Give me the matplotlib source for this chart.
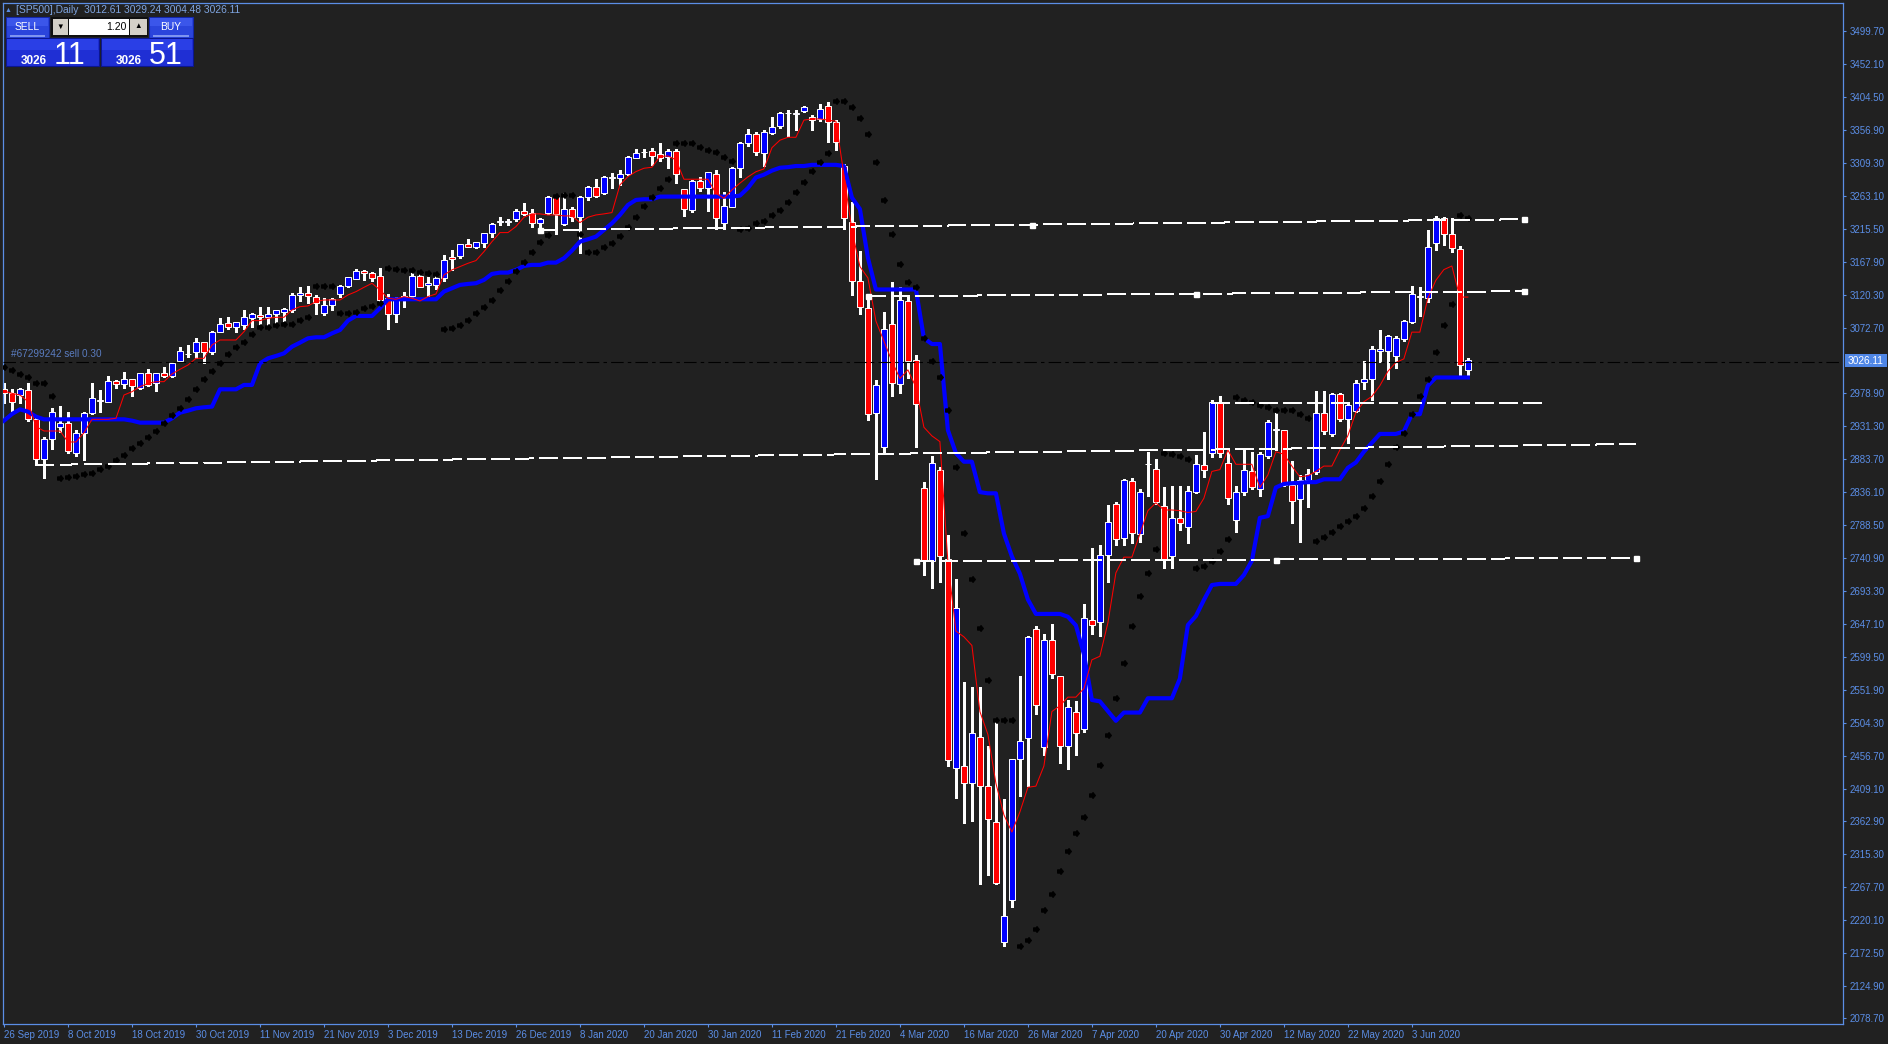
import matplotlib
matplotlib.use("Agg")
import matplotlib.pyplot as plt
from matplotlib.patches import Rectangle
from matplotlib.path import Path
import numpy as np
import pandas as pd

W, H = 1888, 1044
BG = "#212121"
AXC = "#5b8ee6"

# --- trading calendar of the CFD (closed only on these days) ---
closed_days = ["2019-12-25", "2020-01-01", "2020-04-10"]
tick_dates = ["2019-09-26", "2019-10-08", "2019-10-18", "2019-10-30", "2019-11-11", "2019-11-21",
              "2019-12-03", "2019-12-13", "2019-12-26", "2020-01-08", "2020-01-20", "2020-01-30",
              "2020-02-11", "2020-02-21", "2020-03-04", "2020-03-16", "2020-03-26", "2020-04-07",
              "2020-04-20", "2020-04-30", "2020-05-12", "2020-05-22", "2020-06-03"]

# --- OHLC ---
opens = [2984.2, 2978.4, 2975.6, 2982.8, 2941.9, 2883.4, 2912.2, 2929.5, 2935.3, 2892.0,
         2920.9, 2949.7, 2968.5, 2966.4, 2996.7, 2991.9, 2998.6, 2985.6, 3007.2, 2992.8,
         3007.2, 3003.4, 3025.0, 3035.0, 3038.4, 3051.9, 3038.4, 3067.2, 3079.2, 3074.4,
         3077.3, 3086.4, 3091.7, 3087.9, 3092.2, 3095.9, 3098.4, 3119.5, 3122.9, 3116.6,
         3094.6, 3105.2, 3121.0, 3133.0, 3143.1, 3155.1, 3152.2, 3147.4, 3115.3, 3092.2,
         3115.3, 3118.6, 3147.4, 3134.5, 3134.5, 3144.1, 3175.2, 3176.7, 3193.5, 3188.7,
         3195.4, 3208.8, 3225.4, 3225.4, 3229.0, 3240.5, 3237.6, 3223.2, 3238.6, 3261.6,
         3222.3, 3243.9, 3232.8, 3260.7, 3275.1, 3266.4, 3289.0, 3288.0, 3293.8, 3317.8,
         3326.2, 3327.4, 3322.6, 3319.2, 3327.9, 3272.2, 3242.4, 3284.2, 3273.6, 3293.8,
         3224.2, 3246.3, 3302.4, 3338.7, 3351.1, 3323.8, 3352.7, 3363.5, 3382.0, 3381.0,
         3385.0, 3375.9, 3373.4, 3392.4, 3369.3, 3305.6, 3224.6, 3140.3, 3100.7, 2950.2,
         2900.6, 3078.3, 2991.6, 3111.4, 3026.3, 2842.8, 2737.0, 2867.6, 2739.5, 2439.4,
         2441.9, 2417.1, 2483.3, 2413.0, 2361.0, 2188.3, 2249.4, 2452.7, 2481.6, 2638.6,
         2469.2, 2623.8, 2571.7, 2470.9, 2520.4, 2495.6, 2652.7, 2648.6, 2745.3, 2819.7,
         2769.9, 2852.1, 2776.0, 2876.0, 2869.6, 2816.1, 2744.6, 2798.6, 2785.3, 2836.7,
         2874.7, 2893.2, 2964.7, 2877.8, 2796.6, 2836.2, 2866.0, 2841.3, 2888.6, 2926.0,
         2925.1, 2847.0, 2825.9, 2853.0, 2865.0, 2949.8, 2919.5, 2977.1, 2941.1, 2952.4,
         2994.6, 2998.7, 3038.8, 3038.8, 3031.6, 3056.3, 3080.4, 3119.0, 3115.4, 3194.1,
         3230.1, 3207.4, 3186.4, 3012.61]
highs = [2992.8, 2985.0, 2986.0, 2992.8, 2945.0, 2915.0, 2957.8, 2960.0, 2951.0, 2925.6,
         2952.0, 2992.8, 2983.0, 3003.4, 2997.5, 3008.7, 2999.0, 3007.8, 3014.0, 3007.8,
         3016.8, 3022.0, 3045.6, 3048.0, 3058.0, 3052.5, 3068.2, 3086.4, 3087.9, 3081.5,
         3098.4, 3093.6, 3103.2, 3103.2, 3098.8, 3101.8, 3122.4, 3132.0, 3133.0, 3120.0,
         3115.0, 3115.0, 3134.4, 3146.4, 3157.0, 3156.0, 3153.6, 3158.5, 3121.5, 3117.7,
         3124.9, 3151.3, 3149.8, 3146.5, 3147.4, 3177.7, 3184.9, 3193.8, 3200.7, 3196.8,
         3209.0, 3224.2, 3232.8, 3229.0, 3243.4, 3253.0, 3243.4, 3230.4, 3262.6, 3262.6,
         3266.4, 3247.2, 3262.6, 3277.0, 3286.6, 3291.4, 3296.2, 3300.0, 3320.2, 3330.7,
         3329.8, 3331.2, 3338.4, 3329.8, 3329.8, 3272.2, 3285.0, 3290.0, 3297.0, 3300.0,
         3268.8, 3303.9, 3340.8, 3359.3, 3355.0, 3356.9, 3375.9, 3384.0, 3386.6, 3386.6,
         3392.0, 3378.4, 3394.9, 3398.2, 3371.7, 3308.1, 3253.6, 3183.3, 3121.3, 2998.2,
         3094.9, 3138.7, 3132.1, 3119.7, 3032.9, 2851.0, 2888.2, 2871.7, 2775.0, 2710.5,
         2563.4, 2555.2, 2555.2, 2470.6, 2508.1, 2395.0, 2452.5, 2571.7, 2628.5, 2642.8,
         2632.0, 2646.1, 2572.0, 2537.0, 2535.4, 2675.8, 2756.0, 2760.1, 2818.0, 2822.0,
         2855.0, 2855.9, 2840.0, 2894.3, 2884.0, 2842.9, 2845.5, 2845.4, 2845.4, 2889.2,
         2922.6, 2968.8, 2974.0, 2896.9, 2845.4, 2896.9, 2894.3, 2894.3, 2940.6, 2950.8,
         2926.0, 2881.4, 2860.9, 2870.0, 2981.7, 2981.7, 2979.1, 2979.1, 2963.7, 2997.0,
         3025.4, 3046.0, 3069.1, 3062.4, 3061.4, 3084.5, 3133.4, 3130.8, 3213.1, 3233.7,
         3232.1, 3231.1, 3191.0, 3029.24]
lows = [2964.0, 2952.0, 2964.0, 2938.0, 2875.0, 2856.0, 2898.0, 2923.0, 2893.0, 2888.0,
        2882.0, 2948.0, 2952.0, 2966.0, 2985.6, 2985.6, 2975.0, 2984.0, 2989.0, 2982.0,
        3002.0, 3002.4, 3025.0, 3031.0, 3028.8, 3022.6, 3035.0, 3067.0, 3070.6, 3067.0,
        3071.0, 3074.4, 3078.3, 3076.8, 3080.2, 3083.0, 3096.0, 3111.8, 3108.0, 3092.7,
        3091.2, 3098.4, 3117.6, 3132.0, 3142.6, 3141.6, 3140.7, 3112.0, 3070.6, 3081.7,
        3103.3, 3115.3, 3131.1, 3118.6, 3128.2, 3140.7, 3156.1, 3172.9, 3189.3, 3187.2,
        3189.6, 3204.0, 3220.8, 3220.8, 3227.0, 3235.2, 3218.4, 3217.5, 3236.7, 3207.9,
        3220.8, 3227.1, 3181.0, 3256.8, 3260.7, 3265.5, 3274.6, 3278.4, 3292.8, 3316.8,
        3319.2, 3307.2, 3313.5, 3302.4, 3281.8, 3233.8, 3240.0, 3270.0, 3241.5, 3214.6,
        3214.6, 3246.0, 3289.5, 3334.6, 3322.0, 3305.6, 3351.0, 3360.0, 3349.4, 3356.9,
        3384.0, 3356.9, 3370.0, 3340.4, 3328.8, 3214.7, 3119.7, 3092.4, 2940.0, 2855.2,
        2892.4, 2975.0, 2979.1, 2999.8, 2900.6, 2717.2, 2698.1, 2706.4, 2442.0, 2396.5,
        2359.3, 2363.4, 2272.5, 2285.0, 2272.5, 2183.1, 2239.5, 2398.1, 2412.9, 2516.3,
        2458.4, 2568.4, 2446.0, 2437.8, 2458.4, 2491.2, 2632.0, 2629.6, 2706.4, 2760.0,
        2760.0, 2763.0, 2764.0, 2830.0, 2819.7, 2727.2, 2727.2, 2781.0, 2763.0, 2835.0,
        2858.3, 2886.6, 2886.6, 2819.7, 2778.6, 2832.6, 2840.3, 2830.0, 2886.0, 2896.9,
        2845.4, 2791.4, 2764.2, 2815.0, 2863.0, 2920.0, 2917.0, 2938.0, 2907.0, 2951.0,
        2985.3, 2968.9, 3022.8, 2999.7, 3015.1, 3054.0, 3079.0, 3089.7, 3110.3, 3184.8,
        3192.5, 3182.2, 3004.8, 3004.48]
closes = [2978.4, 2966.4, 2984.2, 2941.9, 2884.4, 2912.2, 2951.6, 2936.3, 2895.0, 2920.9,
          2949.7, 2971.3, 2967.8, 2996.7, 2991.9, 2998.6, 2989.0, 3007.2, 2990.4, 3007.2,
          3003.4, 3021.6, 3039.4, 3035.5, 3051.9, 3038.4, 3066.3, 3077.8, 3074.4, 3080.7,
          3087.9, 3092.7, 3088.8, 3092.2, 3098.4, 3099.9, 3120.0, 3122.9, 3118.1, 3109.0,
          3105.6, 3113.8, 3133.0, 3145.5, 3155.1, 3151.2, 3145.0, 3112.9, 3092.2, 3115.3,
          3118.6, 3147.4, 3132.1, 3137.8, 3144.1, 3170.4, 3171.4, 3193.5, 3189.6, 3195.9,
          3208.8, 3222.3, 3225.8, 3225.8, 3241.0, 3236.2, 3223.2, 3229.0, 3261.6, 3236.7,
          3243.4, 3232.8, 3260.7, 3275.1, 3262.6, 3289.5, 3289.5, 3293.8, 3318.3, 3324.0,
          3326.4, 3320.7, 3317.8, 3327.9, 3294.3, 3243.4, 3284.2, 3273.6, 3296.7, 3230.4,
          3248.2, 3302.4, 3339.4, 3351.1, 3325.5, 3354.4, 3361.8, 3382.5, 3382.5, 3381.5,
          3390.7, 3371.7, 3388.3, 3369.3, 3340.4, 3231.2, 3140.3, 3103.1, 2948.6, 2989.9,
          3071.7, 2994.0, 3113.0, 3024.6, 2962.6, 2737.0, 2877.5, 2743.6, 2450.2, 2669.2,
          2417.1, 2489.9, 2413.0, 2365.1, 2274.1, 2225.4, 2451.9, 2477.5, 2627.9, 2530.4,
          2623.8, 2574.2, 2470.9, 2527.1, 2489.9, 2655.2, 2644.4, 2745.3, 2793.2, 2768.3,
          2853.2, 2777.1, 2836.2, 2876.4, 2821.3, 2738.5, 2799.2, 2791.4, 2837.2, 2876.3,
          2867.6, 2965.8, 2892.7, 2827.5, 2836.2, 2867.6, 2842.9, 2890.7, 2937.0, 2926.4,
          2847.0, 2823.9, 2853.7, 2862.0, 2949.8, 2923.6, 2977.6, 2941.1, 2961.1, 2994.0,
          2998.7, 3041.9, 3041.9, 3060.4, 3057.8, 3082.0, 3121.1, 3117.0, 3188.4, 3230.1,
          3207.4, 3187.4, 3018.7, 3026.11]

# --- indicators ---
red_ma = [2981.8, 2978.4, 2976.0, 2966.4, 2930.5, 2924.2, 2924.2, 2924.2, 2908.4, 2908.4,
          2921.8, 2941.0, 2941.0, 2941.0, 2942.5, 2976.0, 2980.8, 2988.0, 2992.8, 2995.2,
          2995.2, 3006.3, 3013.0, 3019.2, 3028.8, 3028.8, 3048.0, 3055.2, 3055.2, 3055.2,
          3067.2, 3083.1, 3083.1, 3086.4, 3087.9, 3087.9, 3098.4, 3103.2, 3104.2, 3110.4,
          3112.8, 3112.8, 3112.8, 3120.0, 3124.8, 3131.0, 3136.8, 3127.3, 3115.3, 3113.8,
          3117.7, 3115.3, 3111.4, 3117.7, 3121.5, 3148.9, 3156.1, 3160.9, 3165.6, 3169.5,
          3182.4, 3196.8, 3209.8, 3209.8, 3218.5, 3231.9, 3236.7, 3236.7, 3235.2, 3235.2,
          3233.8, 3233.8, 3224.2, 3231.9, 3235.2, 3236.7, 3238.6, 3278.4, 3290.4, 3297.6,
          3302.4, 3303.9, 3319.2, 3320.2, 3314.4, 3286.6, 3286.6, 3286.6, 3286.6, 3266.4,
          3259.2, 3271.2, 3281.0, 3290.0, 3297.4, 3301.5, 3332.0, 3342.8, 3347.0, 3347.0,
          3371.7, 3373.4, 3373.4, 3371.7, 3370.1, 3293.2, 3213.0, 3161.0, 3144.5, 3082.5,
          3053.5, 3024.6, 2999.8, 3012.2, 2987.4, 2929.6, 2917.2, 2908.9, 2735.3, 2636.2,
          2627.9, 2615.5, 2520.4, 2487.4, 2417.1, 2371.7, 2346.9, 2375.8, 2411.3, 2413.0,
          2441.9, 2520.4, 2528.7, 2541.1, 2541.1, 2553.5, 2594.8, 2600.0, 2648.0, 2720.0,
          2742.6, 2742.6, 2776.0, 2809.5, 2820.8, 2810.5, 2810.5, 2809.5, 2806.9, 2808.4,
          2827.4, 2866.0, 2868.6, 2896.9, 2876.3, 2876.3, 2876.3, 2842.9, 2860.9, 2894.3,
          2890.7, 2873.7, 2858.3, 2859.8, 2866.0, 2873.7, 2873.7, 2896.9, 2917.4, 2950.9,
          2966.3, 2974.0, 2989.4, 3010.0, 3022.8, 3028.0, 3066.5, 3066.5, 3115.4, 3141.1,
          3156.5, 3161.7, 3117.0, 3117.0]
blue_line = [2939.1, 2948.7, 2955.4, 2952.0, 2944.8, 2941.0, 2941.0, 2941.0, 2941.0, 2941.0,
             2941.0, 2941.0, 2941.0, 2941.0, 2941.0, 2941.0, 2939.1, 2936.2, 2936.2, 2936.2,
             2936.2, 2942.5, 2950.6, 2953.5, 2956.9, 2958.3, 2959.3, 2984.2, 2984.2, 2984.2,
             2990.5, 2990.5, 3021.6, 3028.8, 3032.2, 3036.0, 3045.6, 3051.4, 3057.6, 3059.1,
             3059.1, 3064.8, 3069.6, 3083.1, 3089.8, 3089.8, 3089.8, 3101.0, 3113.8, 3113.8,
             3113.8, 3113.8, 3113.8, 3113.8, 3113.8, 3124.9, 3129.7, 3134.5, 3135.9, 3136.9,
             3141.7, 3150.3, 3152.2, 3152.2, 3156.1, 3161.8, 3163.3, 3163.3, 3166.6, 3166.6,
             3172.9, 3183.9, 3196.8, 3200.2, 3204.0, 3213.6, 3223.2, 3235.2, 3249.6, 3256.8,
             3257.8, 3257.8, 3261.6, 3261.6, 3261.6, 3261.6, 3261.6, 3261.6, 3261.6, 3261.6,
             3261.6, 3261.6, 3263.0, 3274.0, 3289.1, 3293.2, 3299.0, 3303.1, 3304.0, 3305.6,
             3305.6, 3307.3, 3307.3, 3307.3, 3307.3, 3305.6, 3260.2, 3243.6, 3173.4, 3127.9,
             3127.9, 3127.9, 3127.9, 3127.9, 3127.9, 3057.7, 3049.4, 3049.4, 2925.4, 2892.4,
             2880.0, 2880.0, 2836.2, 2834.5, 2834.5, 2776.7, 2743.6, 2718.8, 2681.6, 2660.9,
             2660.9, 2660.9, 2660.9, 2656.8, 2644.4, 2603.1, 2537.0, 2535.0, 2521.0, 2507.0,
             2518.9, 2518.9, 2518.9, 2539.5, 2539.5, 2539.5, 2539.5, 2567.8, 2644.9, 2657.8,
             2680.9, 2702.5, 2704.1, 2704.1, 2704.1, 2716.9, 2737.5, 2799.2, 2801.7, 2842.9,
             2848.0, 2849.0, 2849.6, 2850.6, 2850.6, 2854.7, 2854.7, 2854.7, 2871.2, 2878.9,
             2894.3, 2907.2, 2920.0, 2920.0, 2920.0, 2923.6, 2948.3, 2948.3, 2989.4, 3001.2,
             3001.2, 3001.2, 3001.2, 3001.2]
sar = [3016.8, 3012.0, 3005.8, 3001.5, 2993.8, 2992.8, 2974.6, 2856.0, 2857.5, 2859.9,
       2862.3, 2863.3, 2869.0, 2873.8, 2882.5, 2889.2, 2899.3, 2906.5, 2915.1, 2924.7,
       2935.3, 2947.3, 2956.9, 2969.8, 2984.2, 2998.6, 3011.1, 3021.6, 3034.6, 3044.7,
       3052.8, 3063.9, 3073.5, 3073.5, 3076.8, 3077.8, 3078.3, 3084.0, 3088.0, 3133.0,
       3133.0, 3133.0, 3093.6, 3094.0, 3096.0, 3100.8, 3104.5, 3108.1, 3158.5, 3157.5,
       3156.1, 3156.1, 3153.7, 3152.2, 3150.3, 3070.6, 3072.1, 3076.4, 3084.1, 3094.6,
       3102.3, 3112.9, 3127.3, 3140.7, 3154.6, 3168.0, 3182.4, 3195.9, 3206.0, 3262.6,
       3264.0, 3263.6, 3207.9, 3181.5, 3181.5, 3188.7, 3195.4, 3205.0, 3218.4, 3232.4,
       3247.7, 3260.7, 3273.6, 3286.6, 3338.4, 3338.4, 3338.4, 3333.6, 3328.8, 3326.4,
       3319.2, 3313.5, 3214.6, 3217.0, 3223.0, 3227.1, 3234.5, 3242.0, 3254.4, 3267.6,
       3282.5, 3299.0, 3311.4, 3323.8, 3399.0, 3399.0, 3390.8, 3374.2, 3351.1, 3311.4,
       3256.0, 3208.1, 3165.1, 3138.7, 3132.1, 3057.7, 3024.6, 3001.5, 2954.4, 2871.7,
       2776.7, 2710.6, 2640.3, 2565.9, 2508.1, 2508.1, 2508.1, 2183.2, 2191.5, 2208.0,
       2235.3, 2258.4, 2290.7, 2319.6, 2345.2, 2369.2, 2399.8, 2443.6, 2486.5, 2539.5,
       2590.9, 2643.4, 2686.1, 2719.5, 2753.9, 2892.7, 2890.7, 2887.6, 2884.0, 2727.2,
       2729.7, 2736.4, 2750.8, 2768.3, 2973.0, 2968.9, 2965.8, 2961.1, 2958.6, 2954.5,
       2954.5, 2954.5, 2949.3, 2943.1, 2765.7, 2770.9, 2778.6, 2787.8, 2795.0, 2801.7,
       2813.6, 2830.0, 2851.6, 2877.3, 2901.0, 2921.6, 2948.3, 2974.0, 2999.7, 3038.3,
       3076.8, 3107.7, 3235.2, 3231.1]

# --- trend lines (bar index, price) and whether they are selected ---
trend_x0 = [67, 108, 151, 4, 114]
trend_p0 = [3213.6, 3118.0, 2965.0, 2875.3, 2736.9]
trend_x1 = [190, 190, 193, 204, 204]
trend_p1 = [3229.0, 3125.4, 2964.0, 2905.5, 2741.5]
trend_sel = [True, True, False, False, True]

order_price = 3024.0
order_text = "#67299242 sell 0.30"
bid = 3026.11
header = "[SP500],Daily  3012.61 3029.24 3004.48 3026.11"
lot = "1.20"
sell_big, sell_small = "3026", "11"
buy_big, buy_small = "3026", "51"

yticks = [3499.70, 3452.10, 3404.50, 3356.90, 3309.30, 3263.10, 3215.50, 3167.90, 3120.30,
          3072.70, 2978.90, 2931.30, 2883.70, 2836.10, 2788.50, 2740.90, 2693.30, 2647.10,
          2599.50, 2551.90, 2504.30, 2456.70, 2409.10, 2362.90, 2315.30, 2267.70, 2220.10,
          2172.50, 2124.90, 2078.70]

# ---------------------------------------------------------------
plt.rcParams["font.family"] = ["Liberation Sans", "DejaVu Sans"]
plt.rcParams["lines.scale_dashes"] = False


def fx(px):
    return px / W


def fy(py):
    return 1 - py / H


dates = pd.bdate_range("2019-09-26", "2020-06-12")
dates = dates[~dates.isin(pd.to_datetime(closed_days))]
tick_pos = [dates.get_loc(pd.Timestamp(d)) for d in tick_dates]
tick_lab = [f"{pd.Timestamp(d).day} {pd.Timestamp(d):%b %Y}" for d in tick_dates]

fig = plt.figure(figsize=(W / 100, H / 100), dpi=100, facecolor=BG)
ax = fig.add_axes([fx(2.5), fy(1024), fx(1843) - fx(2.5), fy(2.5) - fy(1024)], facecolor=BG)
ax.set_xlim(-0.19, 229.9)
ax.set_ylim(2070.6, 3541.0)

x = np.arange(len(closes))
o, h, l, c = (np.array(v) for v in (opens, highs, lows, closes))
up = c >= o
lo = np.minimum(o, c)
ht = np.abs(c - o)

ax.vlines(x, l, h, color="white", lw=0.75, zorder=2, antialiased=False)
ax.bar(x[up], ht[up], bottom=lo[up], width=0.72, color="#0000ff", edgecolor="white",
       linewidth=0.7, zorder=3)
ax.bar(x[~up], ht[~up], bottom=lo[~up], width=0.72, color="#ff0000", edgecolor="white",
       linewidth=0.7, zorder=3)

ax.plot(x, blue_line, color="#0000ff", lw=3.0, zorder=4, solid_joinstyle="round")
ax.plot(x, red_ma, color="#ff0000", lw=0.75, zorder=5)

arrow = Path([(-1, -0.55), (0.15, -0.55), (0.15, -1), (1, 0), (0.15, 1), (0.15, 0.55),
              (-1, 0.55), (-1, -0.55)],
             [Path.MOVETO] + [Path.LINETO] * 6 + [Path.CLOSEPOLY])
ax.plot(x, sar, ls="none", marker=arrow, ms=4.0, color="black", mec="black", zorder=5)

for x0, p0, x1, p1, sel in zip(trend_x0, trend_p0, trend_x1, trend_p1, trend_sel):
    ax.plot([x0, x1], [p0, p1], color="white", lw=0.8, dashes=(12.5, 4.5), zorder=6,
            antialiased=False)
    if sel:
        ax.plot([x0, (x0 + x1) / 2, x1], [p0, (p0 + p1) / 2, p1], ls="none", marker="s",
                ms=3.6, color="white", zorder=7)

ax.axhline(order_price, color="black", lw=0.8, dashes=(9, 3, 2.5, 3), zorder=6)
ax.text(6.5 / 8, order_price + 3.5, order_text, color="#5a7cc0", fontsize=7.2,
        ha="left", va="bottom", zorder=8)

# axes styling
for s in ax.spines.values():
    s.set_color(AXC)
    s.set_linewidth(0.9)
ax.yaxis.tick_right()
ax.set_yticks(yticks)
ax.set_yticklabels([f"{v:.2f}" for v in yticks])
ax.set_xticks(tick_pos)
ax.set_xticklabels(tick_lab)
ax.tick_params(axis="both", colors=AXC, labelcolor=AXC, labelsize=7, length=2.5, width=0.8)
ax.tick_params(axis="y", pad=2)
ax.tick_params(axis="x", pad=2)
for t in ax.get_xticklabels():
    t.set_ha("left")

# bid price tag on the price scale
fig.add_artist(Rectangle((fx(1845), fy(367)), fx(42), 13 / H, transform=fig.transFigure,
                         facecolor="#4f86e6", edgecolor="none"))
fig.text(fx(1848), fy(360.5), f"{bid:.2f}", color="white", fontsize=7.3, ha="left", va="center")

# header
fig.text(fx(5), fy(10), "\u25b2", color=AXC, fontsize=5, ha="left", va="center")
fig.text(fx(16), fy(10), header, color="#7ea4e0", fontsize=7.4, ha="left", va="center")


def box(x0, y0, x1, y1, fc, ec="none", lw=0.0):
    fig.add_artist(Rectangle((fx(x0), fy(y1)), fx(x1 - x0), (y1 - y0) / H,
                             transform=fig.transFigure, facecolor=fc, edgecolor=ec, linewidth=lw))


# one-click trading panel
for bx0, bx1, lab in ((6, 49, "SELL"), (149, 193, "BUY")):
    box(bx0, 17, bx1, 38, "#2b45dc", "#1326a8", 0.8)
    box(bx0 + 1, 18, bx1 - 1, 26, "#3b56ea")
    box(bx0 + 4, 35.5, bx1 - 4, 36.5, "#7f95f0")
    fig.text(fx((bx0 + bx1) / 2), fy(26.5), lab, color="white", fontsize=7.4,
             ha="center", va="center")
box(51, 17.5, 148, 36.5, "#101010")
box(52.5, 19, 68, 35, "#d4d0c8")
box(69, 19, 129, 35, "white")
box(130, 19, 146.5, 35, "#d4d0c8")
fig.text(fx(60.2), fy(27), "\u25bc", color="black", fontsize=5.5, ha="center", va="center")
fig.text(fx(138.2), fy(27), "\u25b2", color="black", fontsize=5.5, ha="center", va="center")
fig.text(fx(127), fy(27), lot, color="black", fontsize=7.5, ha="right", va="center")

for bx0, bx1, big, small in ((6, 99, sell_big, sell_small), (101, 193, buy_big, buy_small)):
    box(bx0, 38, bx1, 66, "#1f2fd4", "#0b1690", 0.8)
    box(bx0 + 1, 39, bx1 - 1, 50, "#2a3fe6")
    fig.text(fx(bx0 + 15), fy(63.5), big, color="white", fontsize=8.5, fontweight="bold",
             ha="left", va="baseline")
    fig.text(fx(bx0 + 48), fy(64), small, color="white", fontsize=22,
             ha="left", va="baseline")

fig.savefig("out.png", dpi=100, facecolor=BG)
